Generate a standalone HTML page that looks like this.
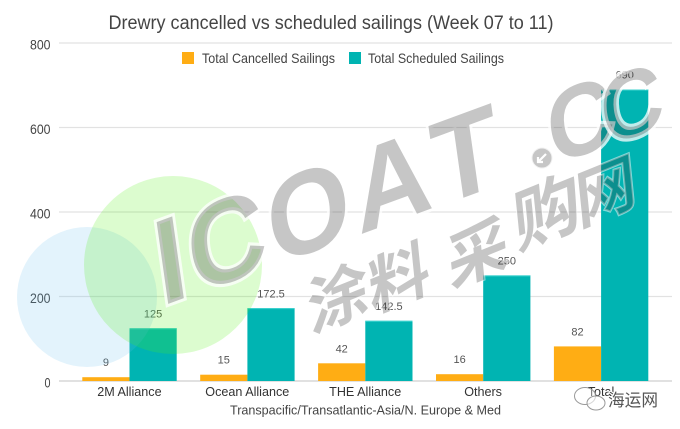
<!DOCTYPE html>
<html>
<head>
<meta charset="utf-8">
<style>
  html,body{margin:0;padding:0;background:#fff;}
  svg{display:block;}
  text{font-family:"Liberation Sans","Noto Sans CJK SC",sans-serif;}
</style>
</head>
<body>
<svg width="680" height="429" viewBox="0 0 680 429" xmlns="http://www.w3.org/2000/svg">
  <rect width="680" height="429" fill="#fff"/>

  <!-- Title -->
  <text x="108.5" y="29" font-size="19" fill="#444" textLength="445" lengthAdjust="spacingAndGlyphs">Drewry cancelled vs scheduled sailings (Week 07 to 11)</text>

  <!-- Gridlines -->
  <g stroke="#e2e2e2" stroke-width="1.3">
    <line x1="59" y1="43" x2="672" y2="43"/>
    <line x1="59" y1="127.5" x2="672" y2="127.5"/>
    <line x1="59" y1="212" x2="672" y2="212"/>
    <line x1="59" y1="296.5" x2="672" y2="296.5"/>
  </g>
  <line x1="59" y1="381" x2="672" y2="381" stroke="#cfcfcf" stroke-width="1.3"/>

  <!-- Y labels -->
  <g font-size="14" fill="#444">
    <text x="30" y="49.5" textLength="20.5" lengthAdjust="spacingAndGlyphs">800</text>
    <text x="30" y="134" textLength="20.5" lengthAdjust="spacingAndGlyphs">600</text>
    <text x="30" y="218.5" textLength="20.5" lengthAdjust="spacingAndGlyphs">400</text>
    <text x="30" y="303" textLength="20.5" lengthAdjust="spacingAndGlyphs">200</text>
    <text x="44.5" y="387.5" textLength="6" lengthAdjust="spacingAndGlyphs">0</text>
  </g>

  <!-- Legend -->
  <rect x="182" y="52" width="12" height="12" fill="#ffad14"/>
  <text x="202" y="63" font-size="14" fill="#444" textLength="133" lengthAdjust="spacingAndGlyphs">Total Cancelled Sailings</text>
  <rect x="349" y="52" width="12" height="12" fill="#00b4b2"/>
  <text x="368" y="63" font-size="14" fill="#444" textLength="136" lengthAdjust="spacingAndGlyphs">Total Scheduled Sailings</text>

  <!-- Bars -->
  <g fill="#ffad14">
    <rect x="82.3" y="377.2" width="47.2" height="3.8"/>
    <rect x="200.2" y="374.7" width="47.2" height="6.3"/>
    <rect x="318.1" y="363.3" width="47.2" height="17.7"/>
    <rect x="436.0" y="374.2" width="47.2" height="6.8"/>
    <rect x="553.9" y="346.4" width="47.2" height="34.6"/>
  </g>
  <g fill="#00b4b2">
    <rect x="129.5" y="328.2" width="47.2" height="52.8"/>
    <rect x="247.4" y="308.1" width="47.2" height="72.9"/>
    <rect x="365.3" y="320.8" width="47.2" height="60.2"/>
    <rect x="483.2" y="275.4" width="47.2" height="105.6"/>
    <rect x="601.1" y="89.5" width="47.2" height="291.5"/>
  </g>
  <g stroke="#3fd3cf" stroke-width="1" fill="none">
    <line x1="129.5" y1="328.7" x2="176.7" y2="328.7"/>
    <line x1="247.4" y1="308.6" x2="294.6" y2="308.6"/>
    <line x1="365.3" y1="321.3" x2="412.5" y2="321.3"/>
    <line x1="483.2" y1="275.9" x2="530.4" y2="275.9"/>
    <line x1="601.1" y1="90" x2="648.3" y2="90"/>
  </g>

  <!-- Data labels -->
  <g font-size="11" fill="#555" text-anchor="middle">
    <text x="105.9" y="366">9</text>
    <text x="153.1" y="317.5">125</text>
    <text x="223.8" y="363.5">15</text>
    <text x="271.0" y="297.5">172.5</text>
    <text x="341.7" y="352.3">42</text>
    <text x="388.9" y="310">142.5</text>
    <text x="459.6" y="363.2">16</text>
    <text x="506.8" y="264.5">250</text>
    <text x="577.5" y="335.5">82</text>
    <text x="624.7" y="78.5">690</text>
  </g>

  <!-- Category labels -->
  <g font-size="12.6" fill="#333" text-anchor="middle">
    <text x="129.4" y="396">2M Alliance</text>
    <text x="247.3" y="396">Ocean Alliance</text>
    <text x="365.2" y="396">THE Alliance</text>
    <text x="483.1" y="396">Others</text>
    <text x="601.0" y="396">Total</text>
  </g>
  <text x="230" y="414.5" font-size="13" fill="#444" textLength="271" lengthAdjust="spacingAndGlyphs">Transpacific/Transatlantic-Asia/N. Europe &amp; Med</text>

  <!-- Watermark circles -->
  <circle cx="87" cy="297" r="70" fill="rgba(100,190,240,0.18)"/>
  <circle cx="173" cy="265" r="89" fill="rgba(80,240,15,0.2)"/>

  <!-- Watermark ICOAT.CC -->
  <g fill="rgba(45,45,45,0.27)" stroke="rgba(255,255,255,0.75)" stroke-width="6" paint-order="stroke" text-anchor="middle" font-family="Liberation Sans, sans-serif" font-weight="bold">
    <text transform="translate(176,301) matrix(0.9,-0.33,0.14,0.99,0,0)" font-size="120">I</text>
    <text transform="translate(232,281) matrix(0.9,-0.33,0.14,0.99,0,0)" font-size="118">C</text>
    <text transform="translate(314,251) matrix(0.9,-0.33,0.14,0.99,0,0)" font-size="116">O</text>
    <text transform="translate(397,221) matrix(0.9,-0.33,0.14,0.99,0,0)" font-size="116">A</text>
    <text transform="translate(471,195) matrix(0.9,-0.33,0.14,0.99,0,0)" font-size="118">T</text>
    <text transform="translate(585,154) matrix(0.9,-0.33,0.14,0.99,0,0)" font-size="100">C</text>
    <text transform="translate(636,136) matrix(0.9,-0.33,0.14,0.99,0,0)" font-size="94">C</text>
  </g>
  <circle cx="542" cy="158" r="10.5" fill="rgba(45,45,45,0.27)" stroke="rgba(255,255,255,0.75)" stroke-width="2"/>
  <path d="M546 154 L538 162 M538 157 L538 162 L543 162" stroke="#fff" stroke-width="2.2" fill="none"/>

  <!-- Watermark Chinese -->
  <g fill="rgba(45,45,45,0.27)" stroke="rgba(255,255,255,0.5)" stroke-width="2" paint-order="stroke" text-anchor="middle" font-size="64" font-weight="bold">
    <text transform="translate(338,298) matrix(0.94,-0.38,0.1,0.99,0,0)" y="23" font-family="Noto Sans CJK SC, sans-serif">涂</text>
    <text transform="translate(399,278) matrix(0.94,-0.38,0.1,0.99,0,0)" y="23" font-family="Noto Sans CJK SC, sans-serif">料</text>
    <text transform="translate(478,253) matrix(0.94,-0.38,0.1,0.99,0,0)" y="23" font-family="Noto Sans CJK SC, sans-serif">采</text>
    <text transform="translate(547,213) matrix(0.94,-0.38,0.1,0.99,0,0)" y="24" font-family="Noto Sans CJK SC, sans-serif" font-size="70">购</text>
    <text transform="translate(606,191) matrix(0.94,-0.38,0.1,0.99,0,0)" y="23" font-family="Noto Sans CJK SC, sans-serif">网</text>
  </g>

  <!-- WeChat badge -->
  <ellipse cx="585" cy="396" rx="10.5" ry="8.5" fill="rgba(255,255,255,0.4)" stroke="#999" stroke-width="1"/>
  <ellipse cx="596" cy="403" rx="9" ry="7" fill="rgba(255,255,255,0.6)" stroke="#999" stroke-width="1"/>
  <text x="608" y="406" font-size="17" fill="#555" stroke="#fff" stroke-width="2" paint-order="stroke" font-family="Liberation Sans, Noto Sans CJK SC, sans-serif" textLength="50" lengthAdjust="spacingAndGlyphs">海运网</text>
</svg>
</body>
</html>
